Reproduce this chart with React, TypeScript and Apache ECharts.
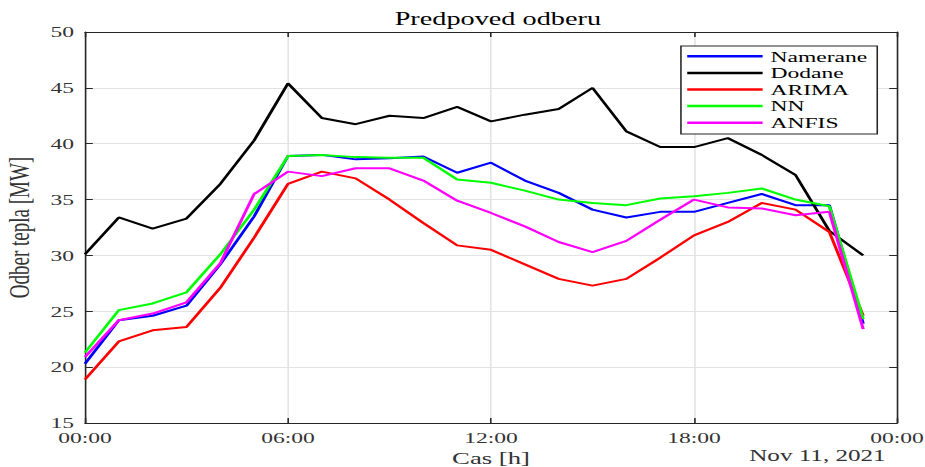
import React, { useEffect, useRef } from "react";
import * as echarts from "echarts";

// Hours of the day (x values)
const hours = [0, 1, 2, 3, 4, 5, 6, 7, 8, 9, 10, 11, 12, 13, 14, 15, 16, 17, 18, 19, 20, 21, 22, 23];

const namerane = [20.3, 24.2, 24.6, 25.5, 29.2, 33.5, 38.9, 39.0, 38.6, 38.7, 38.85, 37.4, 38.3, 36.7, 35.6, 34.1, 33.4, 33.9, 33.9, 34.7, 35.5, 34.5, 34.5, 23.9];
const dodane = [30.1, 33.4, 32.4, 33.3, 36.4, 40.3, 45.4, 42.3, 41.75, 42.5, 42.3, 43.3, 42.0, 42.6, 43.1, 45.0, 41.1, 39.7, 39.7, 40.5, 39.0, 37.2, 32.2, 30.0];
const arima = [18.9, 22.3, 23.3, 23.6, 27.1, 31.6, 36.4, 37.5, 36.9, 35.0, 32.9, 30.9, 30.5, 29.2, 27.9, 27.3, 27.9, 29.8, 31.8, 33.0, 34.7, 34.1, 32.1, 24.6];
const nn = [21.3, 25.1, 25.7, 26.7, 30.1, 34.1, 38.9, 39.0, 38.8, 38.75, 38.75, 36.8, 36.5, 35.8, 35.0, 34.7, 34.5, 35.1, 35.3, 35.6, 36.0, 35.0, 34.4, 24.3];
const anfis = [20.9, 24.2, 24.8, 25.8, 29.3, 35.5, 37.5, 37.1, 37.8, 37.8, 36.7, 34.9, 33.8, 32.6, 31.2, 30.3, 31.3, 33.2, 35.0, 34.3, 34.2, 33.6, 33.9, 23.4];

const seriesNames = ["Namerane", "Dodane", "ARIMA", "NN", "ANFIS"];
const seriesColors = ["#0000ff", "#000000", "#ff0000", "#00ff00", "#ff00ff"];
const seriesValues = [namerane, dodane, arima, nn, anfis];

const titleText = "Predpoved odberu";
const xName = "Cas [h]";
const yName = "Odber tepla [MW]";
const dateText = "Nov 11, 2021";

const FONT = "'Liberation Serif', 'Times New Roman', serif";
const AXIS = "#262626";
const GRID = "#e3e3e3";

// The reference image is horizontally stretched; draw at a base width and stretch.
const OUT_W = 925;
const OUT_H = 467;
const BASE_W = 589;
const SX = OUT_W / BASE_W;

export default function App() {
  const ref = useRef<HTMLDivElement>(null);

  useEffect(() => {
    if (!ref.current) return;
    const chart = echarts.init(ref.current, undefined, {
      renderer: "svg",
      width: BASE_W,
      height: OUT_H,
    });

    const fmt = (v: number) => {
      const h = Math.round(v) % 24;
      return (h < 10 ? "0" : "") + h + ":00";
    };

    const axisCommon = {
      axisLine: { show: true, onZero: false, lineStyle: { color: AXIS, width: 1 } },
      axisTick: { show: true, inside: true, length: 5, lineStyle: { color: AXIS, width: 1 } },
    };

    const option: any = {
      animation: false,
      backgroundColor: "#ffffff",
      title: {
        text: titleText,
        left: 312,
        top: 5,
        textAlign: "center",
        textStyle: { fontFamily: FONT, fontSize: 18, fontWeight: "normal", color: "#000" },
      },
      grid: { left: 54.1, right: 17.8, top: 32, bottom: 44, containLabel: false, outerBoundsMode: "none" },
      legend: {
        data: seriesNames,
        orient: "vertical",
        left: 433.6,
        top: 46,
        padding: [2, 5, 3, 4],
        itemGap: 0,
        itemWidth: 48,
        itemHeight: 2.5,
        itemTextGap: 3,
        icon: "rect",
        borderColor: AXIS,
        borderWidth: 1,
        backgroundColor: "#ffffff",
        textStyle: { fontFamily: FONT, fontSize: 15, color: "#000", lineHeight: 16.6, width: 63 },
      },
      xAxis: [
        {
          type: "value",
          min: 0,
          max: 24,
          interval: 6,
          position: "bottom",
          ...axisCommon,
          axisLabel: { formatter: fmt, fontFamily: FONT, fontSize: 15, color: "#333", margin: 7 },
          splitLine: { show: true, lineStyle: { color: GRID, width: 1 } },
          name: xName,
          nameLocation: "middle",
          nameGap: 25,
          nameTextStyle: { fontFamily: FONT, fontSize: 17, color: "#333" },
        },
        {
          type: "value",
          min: 0,
          max: 24,
          interval: 6,
          position: "top",
          ...axisCommon,
          axisLabel: { show: false },
          splitLine: { show: false },
        },
      ],
      yAxis: [
        {
          type: "value",
          min: 15,
          max: 50,
          interval: 5,
          position: "left",
          ...axisCommon,
          axisLabel: { fontFamily: FONT, fontSize: 15, color: "#333", margin: 7, verticalAlign: "middle" },
          splitLine: { show: true, lineStyle: { color: GRID, width: 1 } },
          name: yName,
          nameLocation: "middle",
          nameRotate: 90,
          nameGap: 32,
          nameTextStyle: { fontFamily: FONT, fontSize: 19, color: "#333" },
        },
        {
          type: "value",
          min: 15,
          max: 50,
          interval: 5,
          position: "right",
          ...axisCommon,
          axisLabel: { show: false },
          splitLine: { show: false },
        },
      ],
      graphic: [
        {
          type: "text",
          x: 520.5,
          y: 456,
          style: {
            text: dateText,
            font: `16px ${FONT}`,
            fill: "#333",
            align: "center",
            verticalAlign: "middle",
          },
        },
      ],
      series: seriesNames.map((name, k) => ({
        name,
        type: "line",
        xAxisIndex: 0,
        yAxisIndex: 0,
        data: hours.map((h, i) => [h, seriesValues[k][i]]),
        symbol: "none",
        color: seriesColors[k],
        lineStyle: { color: seriesColors[k], width: 2 },
      })),
    };

    chart.setOption(option);
    return () => chart.dispose();
  }, []);

  return (
    <div
      style={{
        position: "fixed",
        left: 0,
        top: 0,
        width: OUT_W,
        height: OUT_H,
        overflow: "hidden",
        background: "#fff",
      }}
    >
      <div
        ref={ref}
        style={{
          width: BASE_W,
          height: OUT_H,
          transform: `scaleX(${SX})`,
          transformOrigin: "0 0",
        }}
      />
    </div>
  );
}
